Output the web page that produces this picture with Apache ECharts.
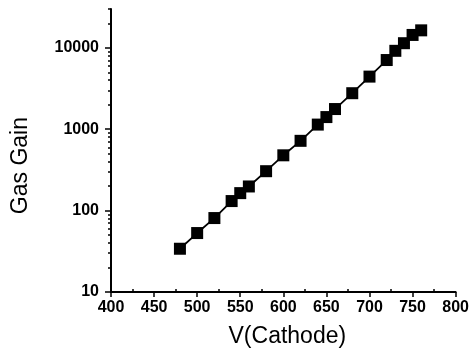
<!DOCTYPE html>
<html>
<head>
<meta charset="utf-8">
<script src="https://cdn.jsdelivr.net/npm/echarts@6/dist/echarts.min.js"></script>
<style>html,body{margin:0;padding:0;background:#fff}#c{width:472px;height:353px}</style>
</head>
<body>
<div id="c"></div>
<script>
var voltage = [480, 500, 520, 540, 550, 560, 580, 600, 620, 640, 650, 660, 680, 700, 720, 730, 740, 750, 760];
var gasGain = [34, 53, 81, 131, 164, 198, 305, 478, 720, 1140, 1410, 1770, 2770, 4430, 7080, 9190, 11400, 14400, 16400];
var yMajorTicks = [10, 100, 1000, 10000];
var yMinorTicks = [20,30,40,50,60,70,80,90,200,300,400,500,600,700,800,900,2000,3000,4000,5000,6000,7000,8000,9000,20000,30000];
var xMinorTicks = [425,475,525,575,625,675,725,775];

var chart = echarts.init(document.getElementById('c'));
var font = 'Liberation Sans, Arial, sans-serif';
chart.setOption({
  animation: false,
  grid: {left: 111, right: 14, top: 9, bottom: 60},
  xAxis: [{
    type: 'value', min: 400, max: 800, interval: 50,
    name: 'V(Cathode)', nameLocation: 'middle', nameGap: 33,
    nameTextStyle: {fontFamily: font, fontSize: 23, color: '#000', padding: [0, 0, 0, 8]},
    axisLine: {lineStyle: {color: '#000', width: 2}},
    axisTick: {inside: false, length: 5, lineStyle: {color: '#000', width: 1.5}},
    axisLabel: {fontFamily: font, fontWeight: 'bold', fontSize: 16, color: '#000', margin: 8},
    splitLine: {show: false}
  }, {
    type: 'value', min: 400, max: 800, position: 'bottom',
    axisLine: {show: false},
    axisTick: {show: true, inside: true, length: 3, customValues: xMinorTicks, lineStyle: {color: '#000', width: 1.5}},
    axisLabel: {show: false},
    splitLine: {show: false}
  }],
  yAxis: [{
    type: 'log', logBase: 10, min: 10, max: 30000,
    axisLine: {show: true, lineStyle: {color: '#000', width: 2}},
    axisTick: {show: true, inside: false, length: 6, customValues: yMajorTicks, lineStyle: {color: '#000', width: 1.5}},
    axisLabel: {fontFamily: font, fontWeight: 'bold', fontSize: 16, color: '#000', margin: 12, customValues: yMajorTicks,
      formatter: function (v) { return String(Math.round(v)); }},
    splitLine: {show: false}
  }, {
    type: 'log', logBase: 10, min: 10, max: 30000, position: 'left',
    axisLine: {show: false},
    axisTick: {show: true, inside: false, length: 3, customValues: yMinorTicks, lineStyle: {color: '#000', width: 1.5}},
    axisLabel: {show: false},
    splitLine: {show: false}
  }],
  graphic: [{
    type: 'text', left: 9, top: 117, rotation: Math.PI / 2,
    style: {text: 'Gas Gain', font: '23px ' + font, fill: '#000'}
  }],
  series: [{
    type: 'line',
    data: voltage.map(function (v, i) { return [v, gasGain[i]]; }),
    symbol: 'rect', symbolSize: 12,
    itemStyle: {color: '#000'},
    lineStyle: {color: '#000', width: 1.8}
  }]
});
</script>
</body>
</html>
